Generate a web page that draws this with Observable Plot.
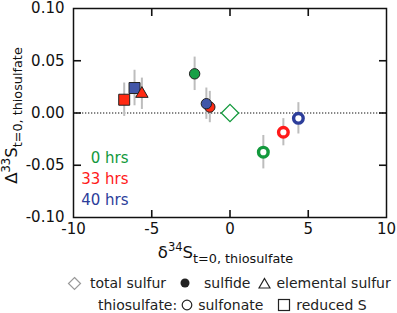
<!DOCTYPE html>
<html><head><meta charset="utf-8">
<script src="https://cdn.jsdelivr.net/npm/d3@7"></script>
<script src="https://cdn.jsdelivr.net/npm/@observablehq/plot@0.6"></script>
<style>
body{margin:0;background:#fff;font-family:"DejaVu Sans",sans-serif;}
#legend{width:397px;height:41px;font-size:14px;color:#222;}
.row{display:flex;align-items:center;height:22px;white-space:nowrap;}
.row svg{display:block}
</style>
</head><body>
<div id="chart"></div>
<div id="legend"></div>
<script>
// ---- data ----
const species = ["sulfide","sulfide","sulfide","total sulfur","reduced S","reduced S","elemental sulfur","sulfonate","sulfonate","sulfonate"];
const hours   = [0, 33, 40, 0, 33, 40, 33, 0, 33, 40];
const d34S    = [-2.26, -1.29, -1.51, 0.0, -6.76, -6.10, -5.63, 2.13, 3.41, 4.37];
const D33S    = [0.0375, 0.0057, 0.0089, 0.0, 0.0127, 0.0239, 0.0184, -0.0375, -0.0184, -0.0051];
const err     = [0.016, 0.015, 0.015, 0, 0.016, 0.017, 0.015, 0.016, 0.013, 0.015];
const hrsLabels = ["0 hrs", "33 hrs", "40 hrs"];
const hrsValues = [0, 33, 40];
const xTicks = [-10, -5, 0, 5, 10];
const yTicks = [-0.10, -0.05, 0.00, 0.05, 0.10];
const innerX = [-5, 0, 5];
const innerY = [-0.05, 0, 0.05];

const fillColor = {0: "#17a047", 33: "#ff2a12", 40: "#4256a8"};
const ringColor = {0: "#12993c", 33: "#ff1a1a", 40: "#2c3d9a"};

const data = species.map((s, i) => ({species: s, hours: hours[i], x: d34S[i], y: D33S[i], e: err[i]}));
const sel = s => data.filter(d => d.species === s);

const W = 397, H = 272, mL = 73, mR = 11, mT = 8, mB = 55;
const tk = 7.5;
const font = "DejaVu Sans";
// custom "symbol" drawing a short inward tick from the anchor point
const tickSym = (ux, uy) => ({draw(ctx) { ctx.moveTo(0, 0); ctx.lineTo(ux * tk, uy * tk); }});
const tickStyle = {fill: "none", stroke: "#111", strokeWidth: 1.6, r: 3};

const plot = Plot.plot({
  width: W, height: H,
  marginLeft: mL, marginRight: mR, marginTop: mT, marginBottom: mB,
  x: {domain: [-10, 10]},
  y: {domain: [-0.1, 0.1]},
  style: {fontFamily: font, fontSize: "15px", color: "#111", background: "white"},
  marks: [
    Plot.ruleY([0], {stroke: "#111", strokeWidth: 1.2, strokeDasharray: "1.3,1.7"}),
    Plot.ruleX(data.filter(d => d.e > 0), {x: "x", y1: d => d.y - d.e, y2: d => d.y + d.e, stroke: "#bdbdbd", strokeWidth: 2}),
    Plot.dot(sel("total sulfur"), {x: "x", y: "y", symbol: "diamond2", r: 7.8, fill: "white", stroke: d => ringColor[d.hours], strokeWidth: 1.3}),
    Plot.dot(sel("sulfide"), {x: "x", y: "y", r: 5.2, fill: d => fillColor[d.hours], stroke: "#222", strokeWidth: 1}),
    Plot.dot(sel("reduced S"), {x: "x", y: "y", symbol: "square", r: 6.2, fill: d => fillColor[d.hours], stroke: "#222", strokeWidth: 1}),
    Plot.dot(sel("elemental sulfur"), {x: "x", y: "y", symbol: "triangle", r: 4.6, fill: d => fillColor[d.hours], stroke: "#222", strokeWidth: 1}),
    Plot.dot(sel("sulfonate"), {x: "x", y: "y", r: 4.8, fill: "white", stroke: d => ringColor[d.hours], strokeWidth: 3.4}),
    ...hrsLabels.map((t, i) => Plot.text([t], {
      frameAnchor: "bottom-left", textAnchor: "end", text: d => d,
      dx: 55, dy: -13 - (hrsLabels.length - 1 - i) * 21,
      fill: ringColor[hrsValues[i]], fontSize: 15
    })),
    Plot.frame({stroke: "#111", strokeWidth: 1.5}),
    // inward ticks on all four sides
    Plot.dot(innerX, {x: d => d, frameAnchor: "bottom", symbol: tickSym(0, -1), ...tickStyle}),
    Plot.dot(innerX, {x: d => d, frameAnchor: "top", symbol: tickSym(0, 1), ...tickStyle}),
    Plot.dot(innerY, {y: d => d, frameAnchor: "left", symbol: tickSym(1, 0), ...tickStyle}),
    Plot.dot(innerY, {y: d => d, frameAnchor: "right", symbol: tickSym(-1, 0), ...tickStyle}),
    Plot.axisX({anchor: "bottom", ticks: xTicks, tickSize: 0, tickPadding: 6, tickFormat: d => String(d), label: null}),
    Plot.axisY({anchor: "left", ticks: yTicks, tickSize: 0, tickPadding: 9, tickFormat: d => d.toFixed(2), label: null})
  ]
});
document.getElementById("chart").appendChild(plot);

const svg = d3.select(plot);
const xs = plot.scale("x"), ys = plot.scale("y");
const xMid = (xs.range[0] + xs.range[1]) / 2;
const yMid = (ys.range[0] + ys.range[1]) / 2;

// axis titles with super/subscripts
function title(g, main, sup, mainS, sub) {
  g.attr("font-family", font).attr("fill", "#111").attr("text-anchor", "middle");
  g.append("tspan").attr("font-size", 16.5).text(main);
  g.append("tspan").attr("font-size", 11.5).attr("dy", -7).text(sup);
  g.append("tspan").attr("font-size", 16.5).attr("dy", 7).text(mainS);
  g.append("tspan").attr("font-size", 12.8).attr("dy", 5).text(sub);
}
title(svg.append("text").attr("x", xMid - 4).attr("y", 258), "δ", "34", "S", "t=0, thiosulfate");
title(svg.append("text").attr("transform", `translate(16.5,${yMid + 3}) rotate(-90)`), "Δ", "33", "S", "t=0, thiosulfate");

// legend
const sym = {
  diamond: '<svg width="15" height="15"><path d="M7.5,1.5 L13.5,7.5 L7.5,13.5 L1.5,7.5Z" fill="white" stroke="#999" stroke-width="1.2"/></svg>',
  dot: '<svg width="10" height="10"><circle cx="5" cy="5" r="4.5" fill="#222"/></svg>',
  tri: '<svg width="13" height="12"><path d="M6.5,1.5 L12,11 L1,11Z" fill="white" stroke="#222" stroke-width="1.2"/></svg>',
  ring: '<svg width="12" height="12"><circle cx="6" cy="6" r="4.8" fill="white" stroke="#222" stroke-width="1.2"/></svg>',
  sq: '<svg width="14" height="14"><rect x="1.5" y="1.5" width="11" height="11" fill="white" stroke="#222" stroke-width="1.2"/></svg>'
};
const legendRows = [
  {pad: 67, items: [[sym.diamond, 8], ["total sulfur", 14], [sym.dot, 14], ["sulfide", 8], [sym.tri, 5], ["elemental sulfur", 0]]},
  {pad: 98, items: [["thiosulfate:", 4], [sym.ring, 5], ["sulfonate", 14], [sym.sq, 5], ["reduced S", 0]]}
];
const lg = document.getElementById("legend");
for (const r of legendRows) {
  const row = document.createElement("div");
  row.className = "row"; row.style.paddingLeft = r.pad + "px";
  for (const [html, gap] of r.items) {
    const s = document.createElement("span");
    s.innerHTML = html; s.style.marginRight = gap + "px";
    row.appendChild(s);
  }
  lg.appendChild(row);
}
</script>
</body></html>
